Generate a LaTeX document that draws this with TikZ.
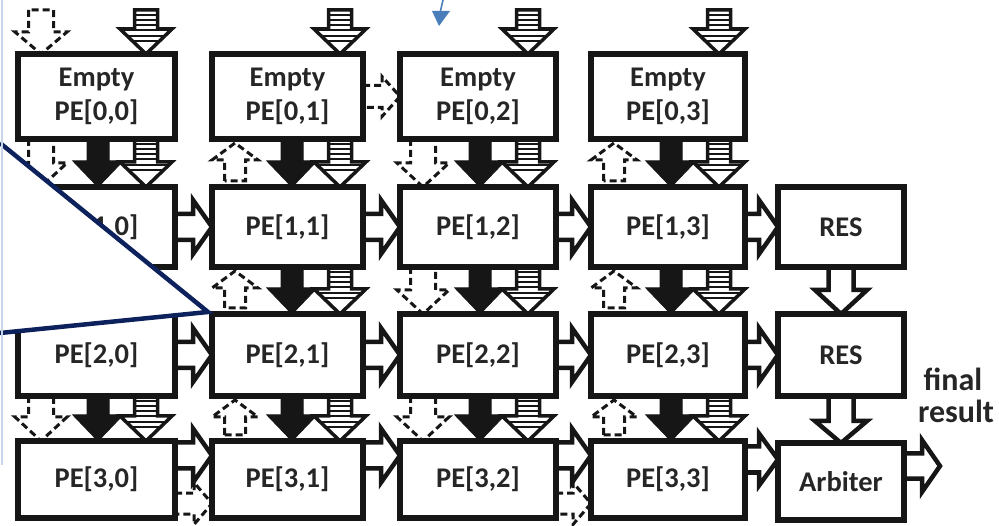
\documentclass[tikz,border=0pt]{standalone}
\usepackage{fontspec}
\setmainfont{Carlito}
\usetikzlibrary{calc,backgrounds}
\definecolor{navy}{RGB}{13,34,92}
\definecolor{callblue}{RGB}{74,126,187}
\definecolor{lightedge}{RGB}{200,212,232}
\definecolor{txt}{RGB}{38,38,38}
\definecolor{boxline}{RGB}{22,22,22}
\tikzset{
 pebox/.style={draw=boxline, line width=5.5pt, fill=white, outer sep=0pt, inner sep=0pt, anchor=north west, font=\bfseries\fontsize{28.5}{34}\selectfont, text=txt, align=center},
 hollow/.style={draw=boxline, line width=4.5pt, fill=white},
 solidarr/.style={draw=boxline, line width=1pt, fill=boxline},
 dasharr/.style={draw=boxline, line width=3pt, dash pattern=on 7pt off 4pt, fill=white},
 stripeout/.style={draw=boxline, line width=3.5pt},
 stripein/.style={draw=boxline, line width=1.5pt},
 overlayline/.style={draw=navy, line width=4.5pt},
 restext/.style={font=\bfseries\fontsize{32}{34}\selectfont, text=txt, inner sep=0pt, anchor=base},
}
% box node
\newcommand\PEbox[6]{\node[pebox,minimum width=#4pt,minimum height=#5pt] (#1) at (#2,-#3) {#6};}
% right block arrow: style, start, tip, body half, head half, head length
\newcommand\RArr[6]{\path[#1] let \p1=#2, \p2=#3 in
  (\x1,\y2+#4) -- (\x2-#6,\y2+#4) -- (\x2-#6,\y2+#5) -- (\x2,\y2) -- (\x2-#6,\y2-#5) -- (\x2-#6,\y2-#4) -- (\x1,\y2-#4) -- cycle;}
% down block arrow: style, start (x,y top), end (y tip), body half, head half, head length
\newcommand\DArr[6]{\path[#1] let \p1=#2, \p2=#3 in
  (\x1-#4,\y1) -- (\x1-#4,\y2+#6) -- (\x1-#5,\y2+#6) -- (\x1,\y2) -- (\x1+#5,\y2+#6) -- (\x1+#4,\y2+#6) -- (\x1+#4,\y1) -- cycle;}
% up block arrow: style, base (x,y bottom), apex (y), body half, head half, head length
\newcommand\UArr[6]{\path[#1] let \p1=#2, \p2=#3 in
  (\x1-#4,\y1) -- (\x1-#4,\y2-#6) -- (\x1-#5,\y2-#6) -- (\x1,\y2) -- (\x1+#5,\y2-#6) -- (\x1+#4,\y2-#6) -- (\x1+#4,\y1) -- cycle;}
% striped down arrow: start, end
\newcommand\SDArr[2]{%
 \begin{scope}
  \clip let \p1=#1, \p2=#2 in
   (\x1-11.5,\y1) -- (\x1-11.5,\y2+25) -- (\x1-26,\y2+25) -- (\x1,\y2) -- (\x1+26,\y2+25) -- (\x1+11.5,\y2+25) -- (\x1+11.5,\y1) -- cycle;
  \path[stripein] let \p1=#1 in
   (\x1-30,\y1-5) -- ++(60,0) (\x1-30,\y1-10) -- ++(60,0) (\x1-30,\y1-15) -- ++(60,0)
   (\x1-30,\y1-20) -- ++(60,0) (\x1-30,\y1-26) -- ++(60,0) (\x1-30,\y1-31) -- ++(60,0);
 \end{scope}
 \DArr{stripeout}{#1}{#2}{11.5}{26}{25}}
\begin{document}
\begin{tikzpicture}[x=1pt,y=1pt]
\useasboundingbox (0,0) rectangle (999,-526);
% boxes
\PEbox{p00}{18}{54}{157}{85}{Empty\\PE[0,0]}
\PEbox{p01}{212}{54}{151}{85}{Empty\\PE[0,1]}
\PEbox{p02}{400}{54}{156}{85}{Empty\\PE[0,2]}
\PEbox{p03}{591}{54}{154}{85}{Empty\\PE[0,3]}
\PEbox{p10}{18}{187}{157}{80}{PE[1,0]}
\PEbox{p11}{212}{187}{151}{80}{PE[1,1]}
\PEbox{p12}{400}{187}{156}{80}{PE[1,2]}
\PEbox{p13}{591}{187}{154}{80}{PE[1,3]}
\PEbox{res1}{778}{187}{126}{80}{RES}
\PEbox{p20}{18}{314}{157}{82}{PE[2,0]}
\PEbox{p21}{212}{314}{151}{82}{PE[2,1]}
\PEbox{p22}{400}{314}{156}{82}{PE[2,2]}
\PEbox{p23}{591}{314}{154}{82}{PE[2,3]}
\PEbox{res2}{778}{314}{126}{82}{RES}
\PEbox{p30}{18}{441}{157}{77}{PE[3,0]}
\PEbox{p31}{212}{441}{151}{77}{PE[3,1]}
\PEbox{p32}{400}{441}{156}{77}{PE[3,2]}
\PEbox{p33}{591}{441}{154}{77}{PE[3,3]}
\PEbox{arb}{778}{443}{126}{77}{Arbiter}
% free ends
\coordinate (td0) at (41,-10);
\coordinate (ts0) at (146,-10);
\coordinate (ts1) at (340,-10);
\coordinate (ts2) at (528,-10);
\coordinate (ts3) at (719,-10);
\coordinate (fr) at (940,-466);
\begin{pgfonlayer}{background}
% top inputs
\DArr{dasharr}{(td0)}{(p00.north)}{12.5}{26}{22}
\SDArr{(ts0)}{(p00.north)}
\SDArr{(ts1)}{(p01.north)}
\SDArr{(ts2)}{(p02.north)}
\SDArr{(ts3)}{(p03.north)}
% vertical arrows between rows
\foreach \r/\s in {0/1,1/2,2/3}{
 \foreach \c in {0,1,2,3}{
  \ifodd\c
   \UArr{dasharr}{($(p\s\c.north west)+(23,6)$)}{($(p\r\c.south)+(0,-4)$)}{10.5}{23}{17}
  \else
   \DArr{dasharr}{($(p\r\c.south west)+(23,0)$)}{(p\s\c.north)}{12.5}{26}{24}
  \fi
  \DArr{solidarr}{($(p\r\c.south west)+(80,0)$)}{(p\s\c.north)}{11}{25}{26}
  \SDArr{($(p\r\c.south west)+(128,0)$)}{(p\s\c.north)}
 }
}
% horizontal arrows rows 1,2
\foreach \r in {1,2}{
 \foreach \c/\d in {0/1,1/2,2/3}{
  \RArr{hollow}{(p\r\c.east)}{(p\r\d.west)}{13}{27}{19}
 }
 \RArr{hollow}{(p\r3.east)}{(res\r.west)}{13}{27}{19}
}
% row 3
\foreach \c/\d in {0/1,1/2,2/3}{
 \RArr{hollow}{($(p3\c.east)+(0,24)$)}{($(p3\d.west)+(0,24)$)}{13}{27}{19}
}
\RArr{hollow}{($(p33.east)+(0,22)$)}{($(arb.west)+(0,22)$)}{13}{26}{19}
\RArr{dasharr}{($(p30.east)+(0,-24)$)}{($(p31.west)+(0,-24)$)}{10.5}{21}{18}
\RArr{dasharr}{($(p32.east)+(0,-24)$)}{($(p33.west)+(0,-24)$)}{10.5}{21}{18}
% row 0 dashed
\RArr{dasharr}{(p01.east)}{(p02.west)}{11}{20}{18}
% result column
\DArr{hollow}{(res1.south)}{(res2.north)}{12.5}{26}{24}
\DArr{hollow}{(res2.south)}{(arb.north)}{12.5}{26}{22}
\RArr{hollow}{(arb.east)}{(fr)}{12.5}{26}{18}
\end{pgfonlayer}
% labels
\node[restext] (fin) at (953,-391) {final};
\node[restext] (resl) at (956,-423) {result};
% overlay callout pointer
\coordinate (cA) at (0,-143);
\coordinate (cB) at (208,-312);
\coordinate (cC) at (0,-333);
\fill[white] (-6,-138) -- (cA) -- (cB) -- (cC) -- (-6,-338) -- cycle;
\draw[overlayline, line join=miter] (cA) -- (cB) -- (cC);
\coordinate (lA) at (2,0);
\coordinate (lB) at (2,-465);
\draw[lightedge, line width=2.5pt] (lA) -- (lB);
% small blue arrow
\coordinate (bA) at (443,0);
\coordinate (bB) at (440,-13);
\draw[callblue, line width=1.6pt] (bA) -- (bB);
\fill[callblue] (432,-11) -- (450,-11) -- (439,-26) -- cycle;
\end{tikzpicture}
\end{document}
